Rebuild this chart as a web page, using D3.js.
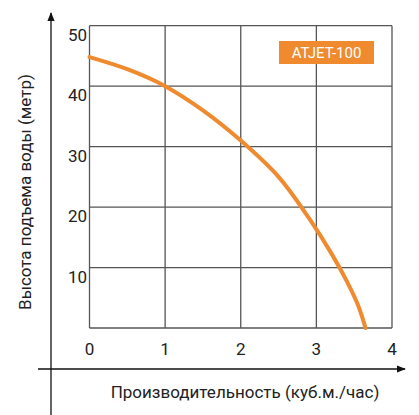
<!DOCTYPE html>
<html><head><meta charset="utf-8">
<script src="https://cdn.jsdelivr.net/npm/d3@7"></script>
<style>body{margin:0;background:#fff}text{font-family:Roboto,sans-serif;fill:#222}</style>
</head><body><div id="chart"></div>
<script>
var flow = [0, 0.5, 1, 1.5, 2, 2.5, 2.9, 3.2, 3.4, 3.55, 3.65];
var head = [44.8, 42.8, 40, 36, 31, 25, 18.2, 12.3, 7.8, 3.8, 0];
var xTicks = [0, 1, 2, 3, 4];
var yTicks = [10, 20, 30, 40, 50];
var seriesName = "ATJET-100";

var svg = d3.select("#chart").append("svg").attr("width", 419).attr("height", 415);
var x = d3.scaleLinear().domain([0, 4]).range([89.5, 392]);
var y = d3.scaleLinear().domain([0, 50]).range([328, 25.7]);

var grid = svg.append("g").attr("stroke", "#555").attr("stroke-width", 1.3);
[0].concat(yTicks).forEach(function(v) {
  grid.append("line").attr("x1", x(0)).attr("x2", x(4)).attr("y1", y(v)).attr("y2", y(v));
});
xTicks.forEach(function(v) {
  grid.append("line").attr("x1", x(v)).attr("x2", x(v)).attr("y1", y(0)).attr("y2", y(50));
});

svg.selectAll(".yt").data(yTicks).enter().append("text")
  .attr("x", 87).attr("y", d => y(d) + 15).attr("text-anchor", "end")
  .attr("font-size", 17).text(d => d);
svg.selectAll(".xt").data(xTicks).enter().append("text")
  .attr("x", d => x(d)).attr("y", 355).attr("text-anchor", "middle")
  .attr("font-size", 17).text(d => d);

// axes with arrows
svg.append("defs").append("marker").attr("id", "arr").attr("viewBox", "0 0 10 10")
  .attr("refX", 9).attr("refY", 5).attr("markerWidth", 7).attr("markerHeight", 7)
  .attr("orient", "auto-start-reverse")
  .append("path").attr("d", "M0,1L10,5L0,9z").attr("fill", "#111");
svg.append("line").attr("x1", 51).attr("x2", 51).attr("y1", 415).attr("y2", 13)
  .attr("stroke", "#111").attr("stroke-width", 1.3).attr("marker-end", "url(#arr)");
svg.append("line").attr("x1", 38).attr("x2", 405).attr("y1", 369).attr("y2", 369)
  .attr("stroke", "#111").attr("stroke-width", 1.3).attr("marker-end", "url(#arr)");

var line = d3.line().x(d => x(d[0])).y(d => y(d[1])).curve(d3.curveCatmullRom);
svg.append("path").datum(d3.zip(flow, head)).attr("d", line)
  .attr("fill", "none").attr("stroke", "#ef8a2f").attr("stroke-width", 4).attr("stroke-linecap", "round");

svg.append("rect").attr("x", 279).attr("y", 41).attr("width", 95).attr("height", 23).attr("fill", "#ef8a2f");
svg.append("text").attr("x", 326.5).attr("y", 58).attr("text-anchor", "middle")
  .attr("font-size", 15).style("fill", "#fff").text(seriesName);

svg.append("text").attr("transform", "translate(31,192) rotate(-90)").attr("text-anchor", "middle")
  .attr("font-size", 17).text("Высота подъема воды (метр)");
svg.append("text").attr("x", 245).attr("y", 398).attr("text-anchor", "middle")
  .attr("font-size", 17).text("Производительность (куб.м./час)");
</script></body></html>
